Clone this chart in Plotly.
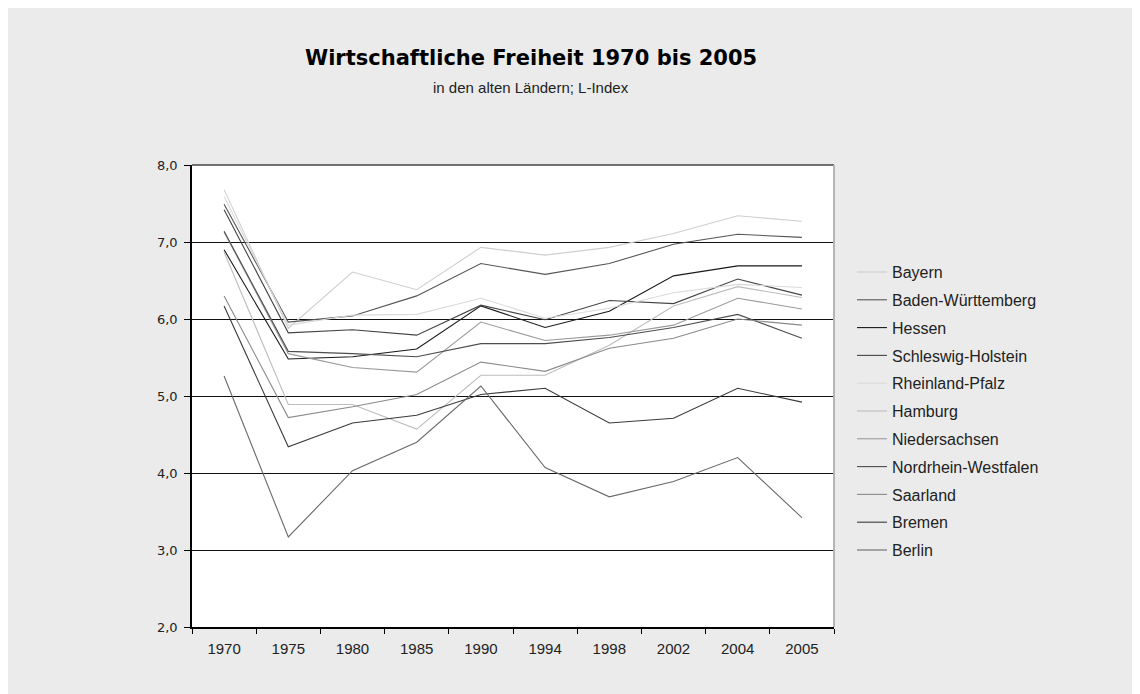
import plotly.graph_objects as go

years = ["1970", "1975", "1980", "1985", "1990", "1994", "1998", "2002", "2004", "2005"]

bayern = [7.68, 5.88, 6.61, 6.38, 6.93, 6.83, 6.93, 7.11, 7.34, 7.27]
baden_wuerttemberg = [7.49, 5.96, 6.04, 6.30, 6.72, 6.58, 6.72, 6.97, 7.10, 7.06]
hessen = [6.90, 5.48, 5.51, 5.61, 6.17, 5.89, 6.10, 6.56, 6.69, 6.69]
schleswig_holstein = [7.42, 5.82, 5.86, 5.79, 6.18, 5.99, 6.24, 6.20, 6.52, 6.31]
rheinland_pfalz = [7.59, 5.92, 6.05, 6.06, 6.27, 6.01, 6.14, 6.34, 6.45, 6.41]
hamburg = [6.87, 4.89, 4.89, 4.57, 5.27, 5.27, 5.66, 6.17, 6.42, 6.28]
niedersachsen = [7.13, 5.55, 5.37, 5.31, 5.96, 5.72, 5.79, 5.92, 6.27, 6.13]
nordrhein_westfalen = [7.14, 5.58, 5.55, 5.51, 5.68, 5.68, 5.76, 5.89, 6.06, 5.75]
saarland = [6.30, 4.72, 4.86, 5.02, 5.44, 5.32, 5.62, 5.75, 6.00, 5.92]
bremen = [6.17, 4.34, 4.65, 4.75, 5.02, 5.10, 4.65, 4.71, 5.10, 4.92]
berlin = [5.26, 3.17, 4.03, 4.40, 5.13, 4.07, 3.69, 3.89, 4.20, 3.42]

names = ["Bayern", "Baden-Württemberg", "Hessen", "Schleswig-Holstein", "Rheinland-Pfalz",
         "Hamburg", "Niedersachsen", "Nordrhein-Westfalen", "Saarland", "Bremen", "Berlin"]
series = [bayern, baden_wuerttemberg, hessen, schleswig_holstein, rheinland_pfalz,
          hamburg, niedersachsen, nordrhein_westfalen, saarland, bremen, berlin]
colors = ["#cfcfcf", "#555555", "#1a1a1a", "#444444", "#dadada",
          "#bdbdbd", "#9a9a9a", "#4d4d4d", "#8a8a8a", "#3a3a3a", "#6a6a6a"]

fig = go.Figure()
for i, (n, s, c) in enumerate(zip(names, series, colors)):
    fig.add_trace(go.Scatter(x=years, y=s, name=n, mode="lines",
                             line=dict(color=c, width=1.1), legendgroup=n))

fig.update_layout(
    width=1140, height=694,
    paper_bgcolor="#ebebeb", plot_bgcolor="#ffffff",
    margin=dict(l=184, r=314, t=157, b=75),
    separators=",.",
    showlegend=True,
    legend=dict(x=1.028, y=0.805, xanchor="left", yanchor="top",
                bgcolor="rgba(0,0,0,0)", traceorder="grouped", tracegroupgap=4,
                font=dict(family="Liberation Sans, Arial", size=16, color="#222")),
    xaxis=dict(type="category", range=[-0.5, 9.5], tickson="boundaries",
               ticks="outside", ticklen=5, tickcolor="#000", showgrid=False,
               showline=True, linecolor="#000", linewidth=1.5, ticklabelstandoff=7,
               tickfont=dict(family="Liberation Sans, Arial", size=15, color="#222")),
    yaxis=dict(range=[2, 8], dtick=1, tickformat=".1f", ticks="outside", ticklen=6,
               tickcolor="#000", showgrid=True, gridcolor="#111", gridwidth=1.3,
               showline=True, linecolor="#000", linewidth=1.5, zeroline=False,
               ticklabelstandoff=4,
               tickfont=dict(family="DejaVu Sans, Verdana", size=13, color="#222")),
    annotations=[
        dict(text="<b>Wirtschaftliche Freiheit 1970 bis 2005</b>", xref="paper", yref="paper",
             x=0.528, y=1.2316, xanchor="center", yanchor="middle", showarrow=False,
             font=dict(family="DejaVu Sans, Verdana", size=21, color="#000")),
        dict(text="in den alten Ländern; L-Index", xref="paper", yref="paper",
             x=0.528, y=1.1667, xanchor="center", yanchor="middle", showarrow=False,
             font=dict(family="Liberation Sans, Arial", size=15, color="#222")),
    ],
    shapes=[
        dict(type="line", xref="paper", yref="paper", x0=0, x1=1, y0=1, y1=1,
             line=dict(color="#444", width=1.5)),
        dict(type="line", xref="paper", yref="paper", x0=1, x1=1, y0=0, y1=1,
             line=dict(color="#b5b5b5", width=2)),
    ],
)

fig.write_html("out.html")
